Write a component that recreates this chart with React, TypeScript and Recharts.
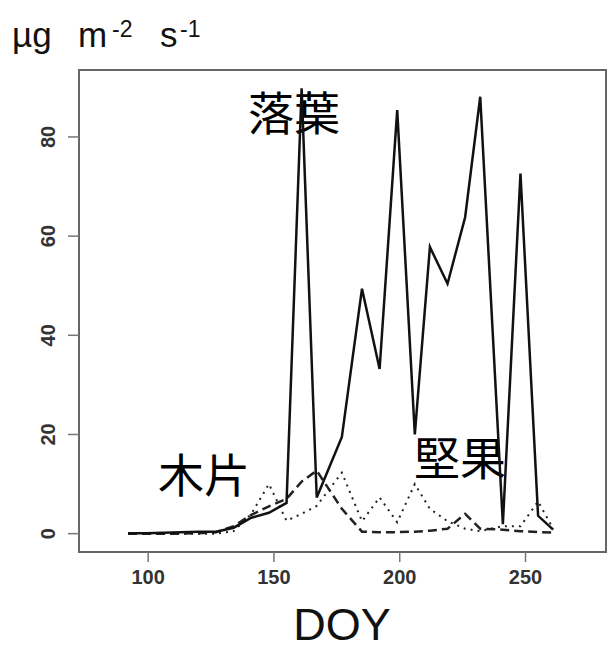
import { LineChart, Line, XAxis, YAxis, ReferenceArea } from "recharts";

// day of year of each sample
const doy = [92, 99, 106, 113, 120, 127, 134, 141, 148, 155, 161, 167, 177, 185, 192, 199, 206, 212, 219, 226, 232, 241, 248, 255, 261];
// 落葉 (solid)
const leaves = [0.1, 0.1, 0.2, 0.3, 0.4, 0.4, 1.2, 3.2, 4.2, 6.2, 89.8, 7.3, 19.5, 49.4, 33.2, 85.4, 20, 57.8, 50.4, 63.8, 88.1, 1.9, 72.6, 3.6, 0.8];
// 堅果 (dashed)
const nuts = [0, 0, 0, 0, 0.1, 0.3, 1.5, 3.8, 5.5, 7, 10.5, 12.7, 5, 0.4, 0.3, 0.3, 0.4, 0.6, 1, 4, 1, 0.8, 0.5, 0.3, 0.2];
// 木片 (dotted)
const wood = [0, 0, 0, 0, 0, 0, 0.5, 4, 10, 2.6, 4, 5.6, 12.3, 2.5, 7.3, 2.3, 10, 5, 2.5, 1, 0.5, 1.5, 1.5, 6.5, 1];

const xTicks = [100, 150, 200, 250];
const yTicks = [0, 20, 40, 60, 80];

const data = doy.map((d, i) => ({ doy: d, leaves: leaves[i], nuts: nuts[i], wood: wood[i] }));

const sans = "'Liberation Sans', Arial, sans-serif";
const cjk = "'Noto Sans CJK JP', sans-serif";

const YTick = ({ x, y, payload }: any) => (
  <text
    x={x}
    y={y}
    transform={`rotate(-90 ${x} ${y})`}
    textAnchor="middle"
    fontSize={20}
    fontWeight="bold"
    fill="#333"
    fontFamily={sans}
  >
    {payload.value}
  </text>
);

export default function App() {
  return (
    <div style={{ position: "absolute", left: 0, top: 0, width: 611, height: 650, background: "#fff" }}>
      <LineChart width={611} height={650} data={data} margin={{ top: 70, right: 5, left: 0, bottom: 0 }}>
        <XAxis
          dataKey="doy"
          type="number"
          domain={[72.5, 282]}
          ticks={xTicks}
          allowDataOverflow
          axisLine={false}
          tickSize={10}
          tickMargin={8}
          height={98}
          tickLine={{ stroke: "#777", strokeWidth: 1.5 }}
          tick={{ fontSize: 20, fontWeight: "bold", fill: "#333", fontFamily: sans }}
        />
        <YAxis
          domain={[-3.7, 93.5]}
          ticks={yTicks}
          allowDataOverflow
          axisLine={false}
          width={79}
          tickSize={11}
          tickMargin={13}
          tickLine={{ stroke: "#777", strokeWidth: 1.5 }}
          tick={<YTick />}
        />
        <ReferenceArea x1={72.5} x2={282} y1={-3.7} y2={93.5} fill="none" stroke="#666" strokeWidth={2} />
        <Line dataKey="wood" type="linear" stroke="#222" strokeWidth={2} strokeDasharray="2 5" dot={false} isAnimationActive={false} />
        <Line dataKey="nuts" type="linear" stroke="#222" strokeWidth={2.5} strokeDasharray="9 5" dot={false} isAnimationActive={false} />
        <Line dataKey="leaves" type="linear" stroke="#111" strokeWidth={2.5} dot={false} isAnimationActive={false} />
        <text x={294} y={110} textAnchor="middle" dominantBaseline="central" fontSize={46} fontFamily={cjk} fill="#000">落葉</text>
        <text x={204} y={472} textAnchor="middle" dominantBaseline="central" fontSize={46} fontFamily={cjk} fill="#000">木片</text>
        <text x={460} y={455} textAnchor="middle" dominantBaseline="central" fontSize={46} fontFamily={cjk} fill="#000">堅果</text>
        <text x={342} y={640} textAnchor="middle" fontSize={45} fontFamily={sans} fill="#111">DOY</text>
        <text y={47} fontSize={35} fontFamily={sans} fill="#111">
          <tspan x={12}>µg</tspan>
          <tspan x={78}>m</tspan>
          <tspan x={112} dy={-10} fontSize={23}>-2</tspan>
          <tspan x={160} dy={10}>s</tspan>
          <tspan x={180} dy={-10} fontSize={23}>-1</tspan>
        </text>
      </LineChart>
    </div>
  );
}
